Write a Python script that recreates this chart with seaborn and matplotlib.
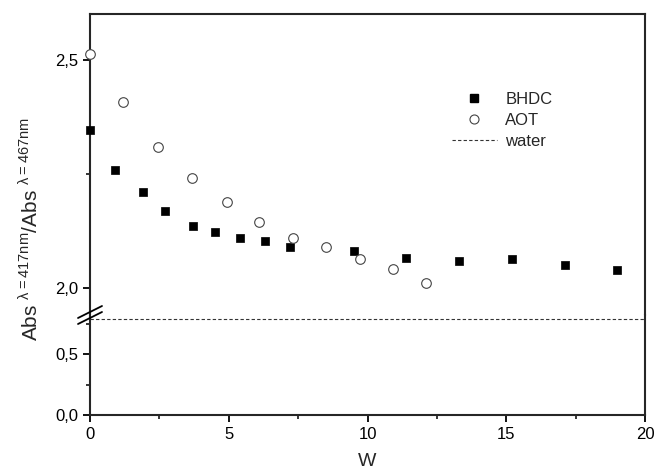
import numpy as np
import pandas as pd
import matplotlib
matplotlib.use('Agg')
import matplotlib.pyplot as plt
from matplotlib.lines import Line2D
from matplotlib.ticker import FuncFormatter, MultipleLocator
import seaborn as sns

# data
bhdc_w = [0.0, 0.9, 1.9, 2.7, 3.7, 4.5, 5.4, 6.3, 7.2, 9.5, 11.4, 13.3, 15.2, 17.1, 19.0]
bhdc_ratio = [2.346, 2.260, 2.211, 2.169, 2.136, 2.123, 2.109, 2.104, 2.090, 2.082, 2.066, 2.059, 2.063, 2.051, 2.040]
aot_w = [0.0, 1.2, 2.46, 3.66, 4.93, 6.1, 7.32, 8.49, 9.73, 10.91, 12.1]
aot_ratio = [2.514, 2.409, 2.310, 2.241, 2.188, 2.144, 2.109, 2.090, 2.064, 2.042, 2.011]
water_ratio = 0.79

sns.set_style('ticks')
plt.rcParams['font.family'] = ['Liberation Sans', 'DejaVu Sans']
plt.rcParams['mathtext.fontset'] = 'custom'
plt.rcParams['mathtext.rm'] = 'Liberation Sans'

bhdc = pd.DataFrame({'W': bhdc_w, 'ratio': bhdc_ratio})
aot = pd.DataFrame({'W': aot_w, 'ratio': aot_ratio})

fig = plt.figure(figsize=(6.55, 4.75), dpi=100)
L, W_ = 90 / 655, 555 / 655
ax_top = fig.add_axes([L, 160 / 475, W_, 301 / 475])
ax_bot = fig.add_axes([L, 60 / 475, W_, 100 / 475], sharex=ax_top)

# markers only live in the upper part of the broken axis
sns.scatterplot(data=bhdc, x='W', y='ratio', ax=ax_top, marker='s', s=36,
                color='black', edgecolor='black', linewidth=0.5, clip_on=False, zorder=3)
sns.scatterplot(data=aot, x='W', y='ratio', ax=ax_top, marker='o', s=48,
                facecolor='white', edgecolor='#444444', linewidth=0.8, clip_on=False, zorder=3)
ax_bot.axhline(water_ratio, color='#333333', lw=0.8, ls=(0, (3, 2)))

for ax in (ax_top, ax_bot):
    ax.set_xlim(0, 20)
    ax.set_xlabel('')
    ax.set_ylabel('')
    for sp in ax.spines.values():
        sp.set_linewidth(1.5)
        sp.set_visible(True)
    ax.tick_params(which='major', direction='out', length=5, width=1.3, labelsize=12, colors='black')
    ax.tick_params(which='minor', direction='out', length=3, width=1.3)
    ax.yaxis.set_major_formatter(FuncFormatter(lambda v, p: f'{v:.1f}'.replace('.', ',')))

ax_top.set_ylim(1.941, 2.601)
ax_top.yaxis.set_major_locator(MultipleLocator(0.5))
ax_top.yaxis.set_minor_locator(MultipleLocator(0.25))
ax_top.spines['bottom'].set_visible(False)
ax_top.tick_params(axis='x', which='both', bottom=False, labelbottom=False)

ax_bot.set_ylim(0, 0.82)
ax_bot.yaxis.set_major_locator(MultipleLocator(0.5))
ax_bot.yaxis.set_minor_locator(MultipleLocator(0.25))
ax_bot.spines['top'].set_visible(False)
ax_bot.xaxis.set_major_locator(MultipleLocator(5))
ax_bot.xaxis.set_minor_locator(MultipleLocator(2.5))
ax_bot.xaxis.set_major_formatter(FuncFormatter(lambda v, p: f'{v:.0f}'))
ax_bot.set_xlabel('W', fontsize=14, labelpad=8)

# break marks on the left spine
for dy in (-3, 3):
    y = (475 - 315 + dy) / 475
    fig.add_artist(Line2D([L - 12 / 655, L + 12 / 655], [y - 6 / 475, y + 6 / 475],
                          color='black', lw=1.3, transform=fig.transFigure))

fig.text(30 / 655, 1 - 229 / 475,
         r'Abs $^{\mathregular{\lambda=417nm}}$/Abs $^{\mathregular{\lambda=467nm}}$',
         rotation=90, ha='center', va='center', fontsize=15)

handles = [
    Line2D([], [], marker='s', color='black', ls='none', markersize=5.5),
    Line2D([], [], marker='o', markerfacecolor='white', markeredgecolor='#444444', ls='none', markersize=6.5, markeredgewidth=0.8),
    Line2D([], [], color='#333333', lw=0.8, ls=(0, (3, 2))),
]
ax_top.legend(handles, ['BHDC', 'AOT', 'water'], loc='upper left', frameon=False,
              bbox_to_anchor=(452 / 655, 1 - 92 / 475), bbox_transform=fig.transFigure,
              borderpad=0, borderaxespad=0, handlelength=2.7, handletextpad=0.5,
              labelspacing=0.35, fontsize=12)

fig.savefig('out.png', dpi=100)
